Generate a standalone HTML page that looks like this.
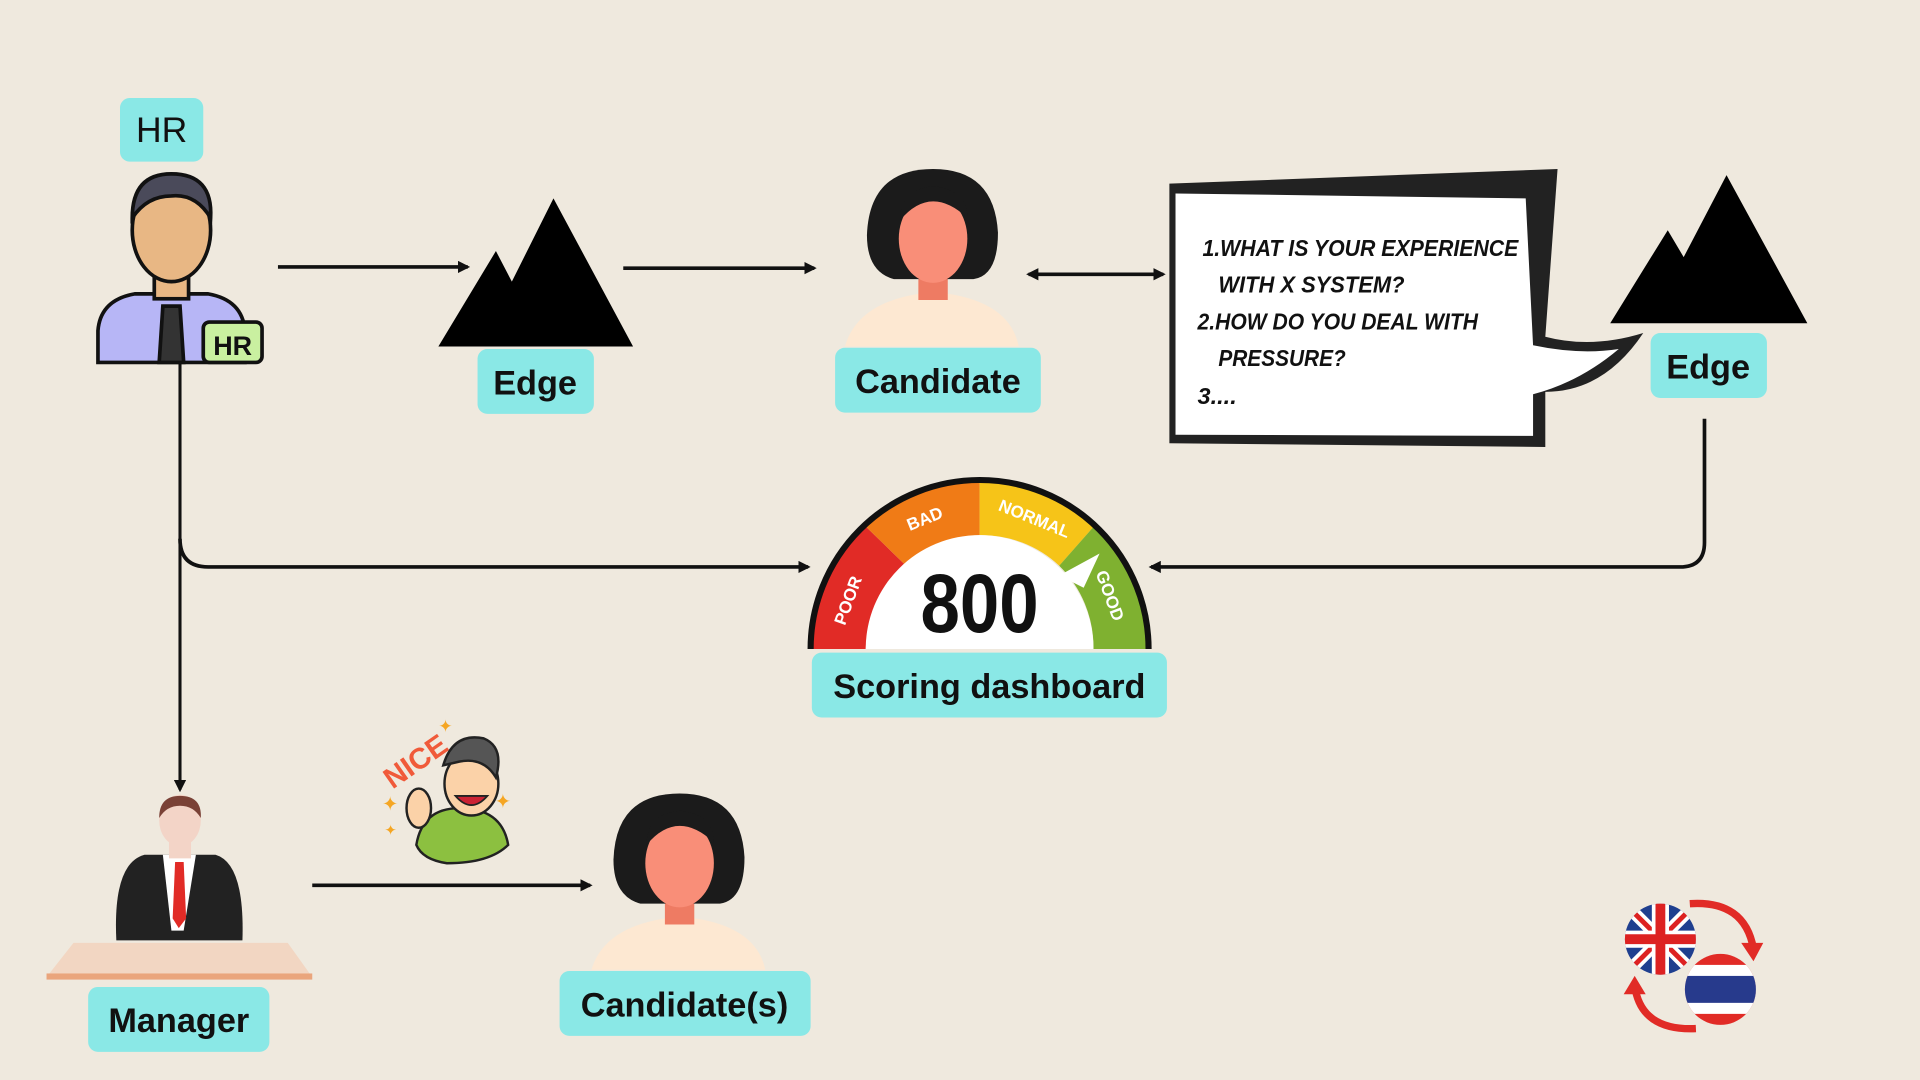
<!DOCTYPE html>
<html><head><meta charset="utf-8"><style>
html,body{margin:0;padding:0;background:#efe9de;}
svg{display:block}
text{font-family:"Liberation Sans",sans-serif;}
</style></head><body>
<svg width="1920" height="1080" viewBox="0 0 1568 882" preserveAspectRatio="none" xmlns="http://www.w3.org/2000/svg">
<defs>
<marker id="ah" markerWidth="10" markerHeight="10" refX="8" refY="5" orient="auto" markerUnits="userSpaceOnUse"><path d="M0,0 L10,5 L0,10 Z" fill="#111"/></marker>
<marker id="ahs" markerWidth="10" markerHeight="10" refX="2" refY="5" orient="auto" markerUnits="userSpaceOnUse"><path d="M10,0 L0,5 L10,10 Z" fill="#111"/></marker>
</defs>
<rect width="1568" height="882" fill="#efe9de"/>

<g stroke="#111" stroke-width="3" fill="none">
<line x1="227" y1="218" x2="382" y2="218" marker-end="url(#ah)"/>
<line x1="509" y1="219" x2="665" y2="219" marker-end="url(#ah)"/>
<line x1="840" y1="224" x2="950" y2="224" marker-end="url(#ah)" marker-start="url(#ahs)"/>
<path d="M147,296 L147,645" marker-end="url(#ah)" stroke-width="2.5"/>
<path d="M147,440 Q147,463 170,463 L660,463" marker-end="url(#ah)"/>
<path d="M1392,342 L1392,443 Q1392,463 1372,463 L940,463" marker-end="url(#ah)"/>
<line x1="255" y1="723" x2="482" y2="723" marker-end="url(#ah)"/>
</g>

<rect x="98" y="80" width="68" height="52" rx="8" fill="#8ae8e6"/>
<text x="132" y="116" font-size="29" text-anchor="middle" fill="#111">HR</text>
<g stroke="#111" stroke-width="3">
<path d="M80,296 L80,270 Q82,245 110,240 L170,240 Q198,245 200,270 L200,296 Z" fill="#b7b6f6"/>
<rect x="126" y="222" width="28" height="22" fill="#e8b784"/>
<ellipse cx="140" cy="188" rx="32" ry="42" fill="#e8b784"/>
<path d="M108,178 Q108,142 140,142 Q174,142 172,178 Q160,158 140,160 Q120,160 108,178 Z" fill="#4a4a5a"/>
<path d="M133,250 L147,250 L150,296 L130,296 Z" fill="#333"/>
<rect x="166" y="263" width="48" height="33" rx="5" fill="#c9f0a0"/>
</g>
<text x="190" y="290" font-size="22" font-weight="bold" text-anchor="middle" fill="#111">HR</text>

<polygon points="358,283 405,205 418,230 452,162 517,283" fill="#000"/>
<polygon points="1315,264 1362,188 1375,210 1410,143 1476,264" fill="#000"/>

<rect x="390" y="285" width="95" height="53" rx="8" fill="#8ae8e6"/>
<text x="437" y="322" font-size="28" font-weight="bold" text-anchor="middle" fill="#111">Edge</text>
<rect x="1348" y="272" width="95" height="53" rx="8" fill="#8ae8e6"/>
<text x="1395" y="309" font-size="28" font-weight="bold" text-anchor="middle" fill="#111">Edge</text>

<g>
<path d="M690,283 Q700,248 750,240 L775,240 Q825,248 832,283 Z" fill="#fde8d2"/>
<rect x="750" y="225" width="24" height="20" fill="#ee7b63"/>
<path d="M762,138 Q812,138 815,190 Q815,225 795,228 L730,228 Q708,222 708,192 Q710,138 762,138Z" fill="#1b1b1b"/>
<ellipse cx="762" cy="195" rx="28" ry="36" fill="#f98e78"/>
<path d="M735,180 Q760,150 790,178 Q790,155 762,152 Q735,155 735,180Z" fill="#1b1b1b"/>
</g>
<rect x="682" y="284" width="168" height="53" rx="8" fill="#8ae8e6"/>
<text x="766" y="321" font-size="28" font-weight="bold" text-anchor="middle" fill="#111">Candidate</text>

<path d="M955,150 L1272,138 L1262,275 Q1300,285 1342,272 Q1310,320 1262,320 L1262,365 L955,362 Z" fill="#222"/>
<path d="M960,158 L1246,162 L1252,282 Q1290,290 1322,285 Q1290,312 1252,322 L1252,356 L960,355 Z" fill="#fff"/>
<g font-size="19" font-weight="bold" fill="#111" font-style="italic">
<text x="982" y="209" textLength="258" lengthAdjust="spacingAndGlyphs">1.WHAT IS YOUR EXPERIENCE</text>
<text x="995" y="239" textLength="152" lengthAdjust="spacingAndGlyphs">WITH X SYSTEM?</text>
<text x="978" y="269" textLength="229" lengthAdjust="spacingAndGlyphs">2.HOW DO YOU DEAL WITH</text>
<text x="995" y="299" textLength="104" lengthAdjust="spacingAndGlyphs">PRESSURE?</text>
<text x="978" y="330" textLength="32" lengthAdjust="spacingAndGlyphs">3....</text>
</g>

<g>
<path d="M662,530 A138,138 0 0,1 705,428 L740,462 A93,93 0 0,0 707,530 Z" fill="#e12b26"/>
<path d="M705,428 A138,138 0 0,1 800,390 L800,437 A93,93 0 0,0 740,462 Z" fill="#f07b16"/>
<path d="M800,390 A138,138 0 0,1 895,428 L865,462 A93,93 0 0,0 800,437 Z" fill="#f6c418"/>
<path d="M895,428 A138,138 0 0,1 938,530 L893,530 A93,93 0 0,0 865,462 Z" fill="#7fb130"/>
</g>
<path d="M662,530 A138,138 0 0,1 938,530" fill="none" stroke="#111" stroke-width="5"/>
<path d="M707,530 A93,93 0 0,1 893,530 Z" fill="#fff"/>
<polygon points="865,470 898,452 885,480" fill="#fff"/>
<text x="800" y="516" font-size="68" font-weight="bold" text-anchor="middle" fill="#111" transform="translate(800,0) scale(0.85,1) translate(-800,0)">800</text>
<g font-size="14" font-weight="bold" fill="#fff" text-anchor="middle">
<text transform="translate(697,492) rotate(-70)">POOR</text>
<text transform="translate(757,428) rotate(-22)">BAD</text>
<text transform="translate(843,428) rotate(22)">NORMAL</text>
<text transform="translate(902,488) rotate(70)">GOOD</text>
</g>
<rect x="663" y="533" width="290" height="53" rx="8" fill="#8ae8e6"/>
<text x="808" y="570" font-size="28" font-weight="bold" text-anchor="middle" fill="#111">Scoring dashboard</text>

<polygon points="60,770 235,770 255,798 38,798" fill="#f2d6c2"/>
<rect x="38" y="795" width="217" height="5" fill="#eaa57c"/>
<path d="M95,768 Q92,705 118,698 L176,698 Q200,705 198,768 Z" fill="#222"/>
<polygon points="133,698 160,698 150,760 140,760" fill="#fff"/>
<polygon points="143,704 150,704 152,750 146,758 141,750" fill="#e12b26"/>
<rect x="138" y="683" width="18" height="18" fill="#f3d4c7"/>
<ellipse cx="147" cy="670" rx="17" ry="21" fill="#f3d4c7"/>
<path d="M130,668 Q130,650 147,650 Q165,650 164,668 Q158,658 147,658 Q136,658 130,668Z" fill="#7a4136"/>
<rect x="72" y="806" width="148" height="53" rx="8" fill="#8ae8e6"/>
<text x="146" y="843" font-size="28" font-weight="bold" text-anchor="middle" fill="#111">Manager</text>

<g>
<text x="308" y="635" font-size="24" font-weight="bold" fill="#f05a3a" transform="rotate(-35 330 620)">NICE</text>
<path d="M340,690 Q345,660 375,660 Q410,660 415,690 Q400,705 365,705 Q345,702 340,690Z" fill="#8cc040" stroke="#222" stroke-width="2"/>
<ellipse cx="385" cy="640" rx="22" ry="26" fill="#fbd2a8" stroke="#222" stroke-width="2"/>
<path d="M362,625 Q370,598 395,603 Q412,610 405,635 Q395,618 375,622Z" fill="#555" stroke="#222" stroke-width="2"/>
<ellipse cx="342" cy="660" rx="10" ry="16" fill="#fbd2a8" stroke="#222" stroke-width="2"/>
<path d="M372,650 Q385,665 398,650 Z" fill="#c23" stroke="#222" stroke-width="1.5"/>
<text x="312" y="662" font-size="16" fill="#f5a623">✦</text>
<text x="404" y="660" font-size="16" fill="#f5a623">✦</text>
<text x="358" y="598" font-size="14" fill="#f5a623">✦</text>
<text x="314" y="682" font-size="12" fill="#f5a623">✦</text>
</g>

<g>
<path d="M483,792 Q493,758 543,750 L568,750 Q618,758 625,792 Z" fill="#fde8d2"/>
<rect x="543" y="735" width="24" height="20" fill="#ee7b63"/>
<path d="M555,648 Q605,648 608,700 Q608,735 588,738 L523,738 Q501,732 501,702 Q503,648 555,648Z" fill="#1b1b1b"/>
<ellipse cx="555" cy="705" rx="28" ry="36" fill="#f98e78"/>
<path d="M528,690 Q553,660 583,688 Q583,665 555,662 Q528,665 528,690Z" fill="#1b1b1b"/>
</g>
<rect x="457" y="793" width="205" height="53" rx="8" fill="#8ae8e6"/>
<text x="559" y="830" font-size="28" font-weight="bold" text-anchor="middle" fill="#111">Candidate(s)</text>

<g>
<path d="M1380,738 Q1425,735 1432,775" fill="none" stroke="#e12b26" stroke-width="6"/>
<polygon points="1422,770 1440,770 1432,785" fill="#e12b26"/>
<path d="M1385,840 Q1340,842 1335,805" fill="none" stroke="#e12b26" stroke-width="6"/>
<polygon points="1326,812 1344,812 1335,797" fill="#e12b26"/>
<clipPath id="c1"><circle cx="1356" cy="767" r="29"/></clipPath>
<g clip-path="url(#c1)">
<rect x="1326" y="737" width="60" height="60" fill="#1f3f8f"/>
<path d="M1326,737 L1386,797 M1386,737 L1326,797" stroke="#fff" stroke-width="10"/>
<path d="M1326,737 L1386,797 M1386,737 L1326,797" stroke="#d22" stroke-width="4"/>
<path d="M1356,737 V797 M1326,767 H1386" stroke="#fff" stroke-width="14"/>
<path d="M1356,737 V797 M1326,767 H1386" stroke="#d22" stroke-width="8"/>
</g>
<clipPath id="c2"><circle cx="1405" cy="808" r="29"/></clipPath>
<g clip-path="url(#c2)">
<rect x="1375" y="778" width="60" height="60" fill="#e12b26"/>
<rect x="1375" y="788" width="60" height="40" fill="#fff"/>
<rect x="1375" y="797" width="60" height="22" fill="#273a8c"/>
</g>
</g>
</svg>
</body></html>
